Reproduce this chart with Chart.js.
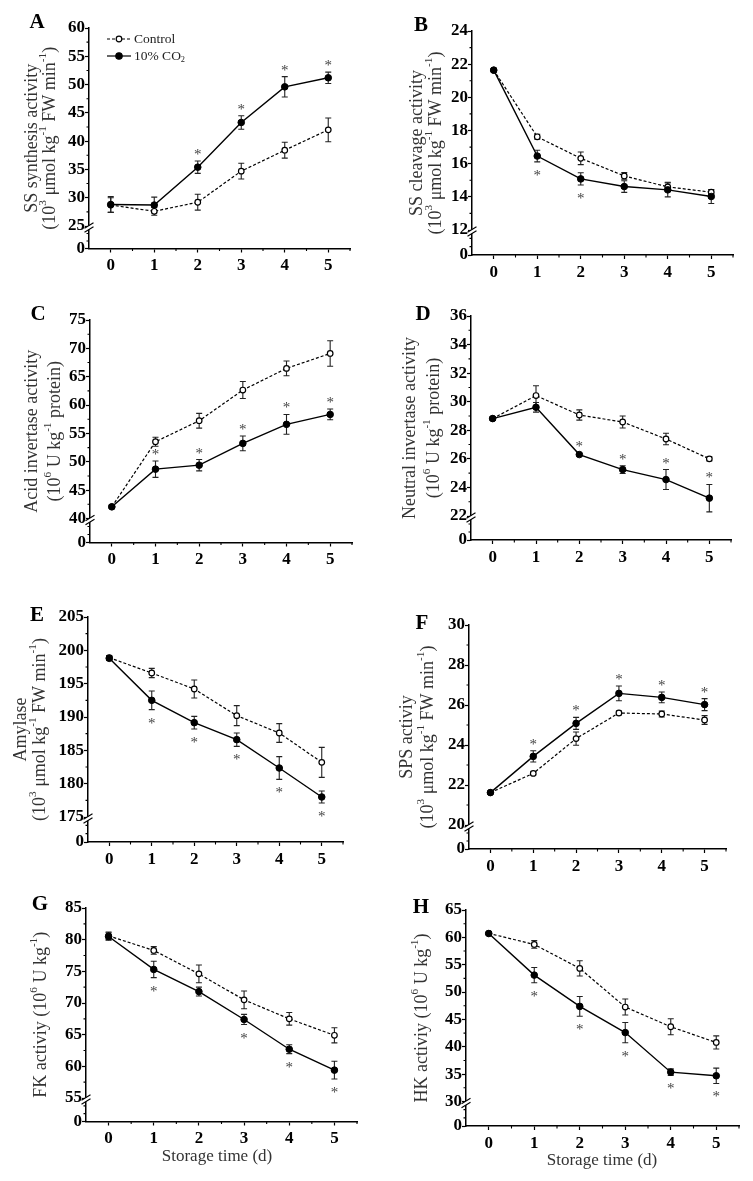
<!DOCTYPE html>
<html><head><meta charset="utf-8">
<script src="https://cdn.jsdelivr.net/npm/chart.js@4.4.0/dist/chart.umd.min.js"></script>
<style>
html,body{margin:0;padding:0;background:#fff;}
#wrap{position:relative;width:753px;height:1181px;overflow:hidden;background:#fff;}
canvas{position:absolute;}
</style></head><body><div id="wrap"></div>
<script>
// ---------- data ----------
const days = [0, 1, 2, 3, 4, 5];
const xTickLabels = ['0', '1', '2', '3', '4', '5'];

// A  SS synthesis
const aTicks = [25, 30, 35, 40, 45, 50, 55, 60];
const aControl = [28.7, 27.6, 29.2, 34.7, 38.4, 42.0];
const aControlErr = [1.3, 0.7, 1.4, 1.4, 1.4, 2.1];
const aCO2 = [28.8, 28.7, 35.4, 43.3, 49.6, 51.2];
const aCO2Err = [1.4, 1.4, 1.1, 1.2, 1.8, 1.0];
const aStars = [0, 0, 1, 1, 1, 1];

// B  SS cleavage
const bTicks = [12, 14, 16, 18, 20, 22, 24];
const bControl = [21.64, 17.62, 16.32, 15.26, 14.6, 14.28];
const bControlErr = [0.1, 0.15, 0.38, 0.2, 0.28, 0.15];
const bCO2 = [21.64, 16.46, 15.08, 14.62, 14.42, 14.02];
const bCO2Err = [0.1, 0.35, 0.37, 0.35, 0.42, 0.42];
const bStars = [0, 1, 1, 0, 0, 0];

// C  Acid invertase
const cTicks = [40, 45, 50, 55, 60, 65, 70, 75];
const cControl = [42.06, 53.53, 57.24, 62.65, 66.47, 69.1];
const cControlErr = [0.3, 0.8, 1.3, 1.5, 1.3, 2.25];
const cCO2 = [42.06, 48.7, 49.4, 53.24, 56.6, 58.35];
const cCO2Err = [0.3, 1.45, 1.0, 1.3, 1.75, 0.95];
const cStars = [0, 1, 1, 1, 1, 1];

// D  Neutral invertase
const dTicks = [22, 24, 26, 28, 30, 32, 34, 36];
const dControl = [28.82, 30.43, 29.07, 28.58, 27.39, 26.0];
const dControlErr = [0.1, 0.69, 0.36, 0.42, 0.4, 0.14];
const dCO2 = [28.82, 29.61, 26.3, 25.25, 24.55, 23.25];
const dCO2Err = [0.1, 0.34, 0.08, 0.27, 0.7, 0.96];
const dStars = [0, 0, 1, 1, 1, 1];

// E  Amylase
const eTicks = [175, 180, 185, 190, 195, 200, 205];
const eControl = [198.9, 196.6, 194.2, 190.2, 187.6, 183.2];
const eControlErr = [0.3, 0.7, 1.35, 1.5, 1.4, 2.25];
const eCO2 = [198.8, 192.5, 189.15, 186.6, 182.35, 178.0];
const eCO2Err = [0.3, 1.4, 0.95, 1.0, 1.7, 0.9];
const eStars = [0, 1, 1, 1, 1, 1];

// F  SPS
const fTicks = [20, 22, 24, 26, 28, 30];
const fControl = [21.62, 22.58, 24.32, 25.6, 25.55, 25.25];
const fControlErr = [0.05, 0.08, 0.33, 0.1, 0.15, 0.22];
const fCO2 = [21.62, 23.43, 25.08, 26.58, 26.38, 26.02];
const fCO2Err = [0.05, 0.28, 0.3, 0.37, 0.27, 0.3];
const fStars = [0, 1, 1, 1, 1, 1];

// G  FK
const gTicks = [55, 60, 65, 70, 75, 80, 85];
const gControl = [80.6, 78.3, 74.6, 70.5, 67.5, 64.9];
const gControlErr = [0.6, 0.6, 1.4, 1.4, 1.0, 1.2];
const gCO2 = [80.5, 75.3, 71.8, 67.4, 62.7, 59.4];
const gCO2Err = [0.6, 1.3, 0.7, 0.8, 0.7, 1.4];
const gStars = [0, 1, 0, 1, 1, 1];

// H  HK
const hTicks = [30, 35, 40, 45, 50, 55, 60, 65];
const hControl = [60.73, 58.7, 54.33, 47.26, 43.66, 40.79];
const hControlErr = [0.2, 0.7, 1.4, 1.46, 1.46, 1.2];
const hCO2 = [60.7, 53.1, 47.38, 42.6, 35.36, 34.7];
const hCO2Err = [0.2, 1.4, 1.8, 1.85, 0.6, 1.4];
const hStars = [0, 1, 1, 1, 1, 1];

const legendLabels = ['Control', '10% CO_{2}'];
const xAxisTitle = 'Storage time (d)';

// ---------- panels ----------
const FONT = "'Liberation Serif', 'Times New Roman', serif";
const panels = [
  {letter:'A', yTicks:aTicks, ctrl:aControl, ctrlErr:aControlErr, co2:aCO2, co2Err:aCO2Err, stars:aStars, starAbove:true,
   title:['SS synthesis activity', '(10^{3} μmol kg^{-1} FW min^{-1})'], legend:true, xTitle:false,
   g:{left:0, top:0, w:376, h:300, axisX:89, rightX:350, topY:28, breakY:226, zeroY:248.5, titleX:[32,50], letterXY:[37,23]}},
  {letter:'B', yTicks:bTicks, ctrl:bControl, ctrlErr:bControlErr, co2:bCO2, co2Err:bCO2Err, stars:bStars, starAbove:false,
   title:['SS cleavage activity', '(10^{3} μmol kg^{-1} FW min^{-1})'], legend:false, xTitle:false,
   g:{left:376, top:0, w:377, h:300, axisX:472, rightX:733, topY:31, breakY:230, zeroY:255, titleX:[417,436], letterXY:[421,26]}},
  {letter:'C', yTicks:cTicks, ctrl:cControl, ctrlErr:cControlErr, co2:cCO2, co2Err:cCO2Err, stars:cStars, starAbove:true,
   title:['Acid invertase activity', '(10^{6} U kg^{-1} protein)'], legend:false, xTitle:false,
   g:{left:0, top:300, w:376, h:300, axisX:90, rightX:352, topY:320, breakY:518.5, zeroY:542.5, titleX:[32,55], letterXY:[38,315]}},
  {letter:'D', yTicks:dTicks, ctrl:dControl, ctrlErr:dControlErr, co2:dCO2, co2Err:dCO2Err, stars:dStars, starAbove:true,
   title:['Neutral invertase activity', '(10^{6} U kg^{-1} protein)'], legend:false, xTitle:false,
   g:{left:376, top:300, w:377, h:300, axisX:471, rightX:731, topY:316, breakY:516, zeroY:540, titleX:[410,434], letterXY:[423,315]}},
  {letter:'E', yTicks:eTicks, ctrl:eControl, ctrlErr:eControlErr, co2:eCO2, co2Err:eCO2Err, stars:eStars, starAbove:false,
   title:['Amylase', '(10^{3} μmol kg^{-1} FW min^{-1})'], legend:false, xTitle:false,
   g:{left:0, top:600, w:376, h:290, axisX:88, rightX:343, topY:617, breakY:817, zeroY:842, titleX:[21,40], letterXY:[37,616]}},
  {letter:'F', yTicks:fTicks, ctrl:fControl, ctrlErr:fControlErr, co2:fCO2, co2Err:fCO2Err, stars:fStars, starAbove:true,
   title:['SPS activiy', '(10^{3} μmol kg^{-1} FW min^{-1})'], legend:false, xTitle:false,
   g:{left:376, top:600, w:377, h:290, axisX:469, rightX:726, topY:625, breakY:825, zeroY:849, titleX:[407,428], letterXY:[422,624]}},
  {letter:'G', yTicks:gTicks, ctrl:gControl, ctrlErr:gControlErr, co2:gCO2, co2Err:gCO2Err, stars:gStars, starAbove:false,
   title:['FK activiy (10^{6} U kg^{-1})'], legend:false, xTitle:true,
   g:{left:0, top:890, w:376, h:291, axisX:86, rightX:357, topY:908, breakY:1098, zeroY:1121.5, titleX:[41], letterXY:[40,905], xTitleXY:[217,1157]}},
  {letter:'H', yTicks:hTicks, ctrl:hControl, ctrlErr:hControlErr, co2:hCO2, co2Err:hCO2Err, stars:hStars, starAbove:false,
   title:['HK activiy (10^{6} U kg^{-1})'], legend:false, xTitle:true,
   g:{left:376, top:890, w:377, h:291, axisX:466, rightX:739, topY:910, breakY:1101.5, zeroY:1126, titleX:[422], letterXY:[421,908], xTitleXY:[602,1161]}}
];

// ---------- rich text helper ----------
function richParts(str) {
  const re = /\^\{([^}]*)\}|_\{([^}]*)\}|([^\^_]+)/g; let m; const out = [];
  while ((m = re.exec(str))) {
    if (m[1] !== undefined) out.push({t:m[1], k:'sup'});
    else if (m[2] !== undefined) out.push({t:m[2], k:'sub'});
    else out.push({t:m[3], k:'n'});
  }
  return out;
}
function drawRich(ctx, str, x, y, size, o) {
  const parts = richParts(str); const wt = o.weight || 'normal';
  let total = 0;
  parts.forEach(p => { p.s = p.k === 'n' ? size : size * 0.62; ctx.font = `${wt} ${p.s}px ${FONT}`; p.w = ctx.measureText(p.t).width; total += p.w; });
  ctx.save(); ctx.translate(x, y); if (o.rot) ctx.rotate(o.rot);
  let cx = o.align === 'left' ? 0 : -total / 2;
  ctx.textBaseline = 'middle'; ctx.textAlign = 'left'; ctx.fillStyle = o.color || '#000';
  parts.forEach(p => {
    ctx.font = `${wt} ${p.s}px ${FONT}`;
    const dy = p.k === 'sup' ? -size * 0.36 : p.k === 'sub' ? size * 0.28 : 0;
    ctx.fillText(p.t, cx, dy); cx += p.w;
  });
  ctx.restore();
}

// ---------- plugin ----------
const deco = {
  id: 'deco',
  beforeDatasetsDraw(chart) {
    const ctx = chart.ctx;
    ctx.save(); ctx.strokeStyle = '#222'; ctx.lineWidth = 1.1;
    chart.data.datasets.forEach((ds, di) => {
      const meta = chart.getDatasetMeta(di); const ys = chart.scales[meta.yAxisID];
      ds.data.forEach((pt, i) => {
        const e = ds.err[i]; if (!e) return;
        const x = meta.data[i].x; const y1 = ys.getPixelForValue(pt.y + e); const y2 = ys.getPixelForValue(pt.y - e);
        ctx.beginPath(); ctx.moveTo(x, y1); ctx.lineTo(x, y2);
        ctx.moveTo(x - 3, y1); ctx.lineTo(x + 3, y1); ctx.moveTo(x - 3, y2); ctx.lineTo(x + 3, y2); ctx.stroke();
      });
    });
    ctx.restore();
  },
  afterDatasetsDraw(chart) {
    const p = chart.options.plugins.deco.panel; const ctx = chart.ctx;
    const ds = chart.data.datasets[1]; const meta = chart.getDatasetMeta(1); const ys = chart.scales.y;
    ctx.save(); ctx.fillStyle = '#444'; ctx.font = `15px ${FONT}`; ctx.textAlign = 'center'; ctx.textBaseline = 'alphabetic';
    p.stars.forEach((s, i) => {
      if (!s) return;
      const x = meta.data[i].x; const v = ds.data[i].y; const e = ds.err[i];
      const yc = p.starAbove ? ys.getPixelForValue(v + e) - 10 : ys.getPixelForValue(v - e) + 10;
      ctx.fillText('*', x, yc + 8);
    });
    ctx.restore();
  },
  afterDraw(chart) {
    const p = chart.options.plugins.deco.panel; const g = p.g; const ctx = chart.ctx;
    const ca = chart.chartArea; const ys = chart.scales.y; const yl = chart.scales.yLow; const xs = chart.scales.x;
    const ax = ca.left;
    ctx.save();
    // minor ticks
    ctx.strokeStyle = '#000'; ctx.lineWidth = 1.1; ctx.beginPath();
    for (let i = 0; i < p.yTicks.length - 1; i++) {
      const yy = ys.getPixelForValue((p.yTicks[i] + p.yTicks[i + 1]) / 2);
      ctx.moveTo(ax - 2.5, yy); ctx.lineTo(ax, yy);
    }
    [1, 2].forEach(v => { const yy = yl.getPixelForValue(v); ctx.moveTo(ax - 2.5, yy); ctx.lineTo(ax, yy); });
    for (let v = 0.5; v < 5.6; v += 1) { const xx = xs.getPixelForValue(v); ctx.moveTo(xx, ca.bottom); ctx.lineTo(xx, ca.bottom + 2.5); }
    ctx.stroke();
    // axis break
    const by = ys.bottom;
    ctx.fillStyle = '#fff';
    ctx.beginPath(); ctx.moveTo(ax - 4, by + 2); ctx.lineTo(ax + 4, by - 3); ctx.lineTo(ax + 4, by + 1); ctx.lineTo(ax - 4, by + 6); ctx.closePath(); ctx.fill();
    ctx.strokeStyle = '#000'; ctx.lineWidth = 1.1; ctx.beginPath();
    ctx.moveTo(ax - 4.5, by + 2.3); ctx.lineTo(ax + 4.5, by - 3.3);
    ctx.moveTo(ax - 4.5, by + 6.3); ctx.lineTo(ax + 4.5, by + 0.7); ctx.stroke();
    // y title
    const cy = (g.topY + g.zeroY) / 2 - g.top;
    p.title.forEach((t, i) => drawRich(ctx, t, g.titleX[i] - g.left, cy, 18, {rot: -Math.PI / 2, color: '#333'}));
    // letter
    ctx.fillStyle = '#000'; ctx.font = `bold 21px ${FONT}`; ctx.textAlign = 'center'; ctx.textBaseline = 'middle';
    ctx.fillText(p.letter, g.letterXY[0] - g.left, g.letterXY[1] - g.top);
    // x title
    if (p.xTitle) drawRich(ctx, xAxisTitle, g.xTitleXY[0] - g.left, g.xTitleXY[1] - g.top, 17, {color: '#333'});
    // legend
    if (p.legend) {
      const lx0 = 107, lx1 = 131, mx = 119;
      const rows = [{y: 39, dash: [3, 2], fill: '#fff', r: 2.8}, {y: 56, dash: [], fill: '#000', r: 3.2}];
      rows.forEach((r, i) => {
        ctx.strokeStyle = '#000'; ctx.lineWidth = 1.2; ctx.setLineDash(r.dash);
        ctx.beginPath(); ctx.moveTo(lx0, r.y); ctx.lineTo(lx1, r.y); ctx.stroke(); ctx.setLineDash([]);
        ctx.beginPath(); ctx.arc(mx, r.y, r.r, 0, Math.PI * 2); ctx.fillStyle = r.fill; ctx.fill(); ctx.stroke();
        drawRich(ctx, legendLabels[i], 134, r.y, 13.5, {align: 'left', color: '#222'});
      });
    }
    ctx.restore();
  }
};

// ---------- build ----------
const wrap = document.getElementById('wrap');
function axisCommon() {
  return {
    grid: {display: true, drawOnChartArea: false, drawTicks: true, tickLength: 4, tickWidth: 1.2, tickColor: '#000'},
    border: {display: true, color: '#000', width: 1.5}
  };
}
panels.forEach(p => {
  const g = p.g;
  const cv = document.createElement('canvas');
  cv.width = g.w; cv.height = g.h;
  cv.style.left = g.left + 'px'; cv.style.top = g.top + 'px';
  cv.style.width = g.w + 'px'; cv.style.height = g.h + 'px';
  wrap.appendChild(cv);
  const yW = g.axisX - g.left;
  const xH = g.top + g.h - g.zeroY;
  const tickFont = {family: FONT, size: 17, weight: 'bold'};
  new Chart(cv, {
    type: 'line',
    data: {datasets: [
      {label: legendLabels[0], data: days.map((d, i) => ({x: d, y: p.ctrl[i]})), err: p.ctrlErr,
       xAxisID: 'x', yAxisID: 'y', borderColor: '#000', borderWidth: 1.2, borderDash: [3, 2],
       pointRadius: 2.8, pointBackgroundColor: '#fff', pointBorderColor: '#000', pointBorderWidth: 1.2,
       order: 2, tension: 0, clip: false},
      {label: legendLabels[1], data: days.map((d, i) => ({x: d, y: p.co2[i]})), err: p.co2Err,
       xAxisID: 'x', yAxisID: 'y', borderColor: '#000', borderWidth: 1.4,
       pointRadius: 3.3, pointBackgroundColor: '#000', pointBorderColor: '#000', pointBorderWidth: 1,
       order: 1, tension: 0, clip: false}
    ]},
    options: {
      responsive: false, animation: false, devicePixelRatio: 1,
      events: [],
      layout: {padding: {left: 0, top: g.topY - g.top, right: g.left + g.w - g.rightX, bottom: 0}},
      plugins: {legend: {display: false}, tooltip: {enabled: false}, deco: {panel: p}},
      scales: {
        x: Object.assign(axisCommon(), {
          type: 'linear', position: 'bottom', min: -0.5, max: 5.5,
          afterBuildTicks: s => { s.ticks = days.map(v => ({value: v})); },
          afterFit: s => { s.height = xH; },
          ticks: {autoSkip: false, color: '#000', font: tickFont, padding: 3,
                  callback: (v) => xTickLabels[days.indexOf(v)]}
        }),
        y: Object.assign(axisCommon(), {
          type: 'linear', position: 'left', stack: 'v', stackWeight: g.breakY - g.topY, weight: 2,
          min: p.yTicks[0], max: p.yTicks[p.yTicks.length - 1],
          afterBuildTicks: s => { s.ticks = p.yTicks.map(v => ({value: v})); },
          afterFit: s => { s.width = yW; },
          ticks: {autoSkip: false, color: '#000', font: tickFont, padding: 0, callback: v => String(v)}
        }),
        yLow: Object.assign(axisCommon(), {
          type: 'linear', position: 'left', stack: 'v', stackWeight: g.zeroY - g.breakY, weight: 1,
          min: 0, max: 3,
          afterBuildTicks: s => { s.ticks = [{value: 0}]; },
          afterFit: s => { s.width = yW; },
          ticks: {autoSkip: false, color: '#000', font: tickFont, padding: 0, callback: v => String(v)}
        })
      }
    },
    plugins: [deco]
  });
});
</script>
</body></html>
